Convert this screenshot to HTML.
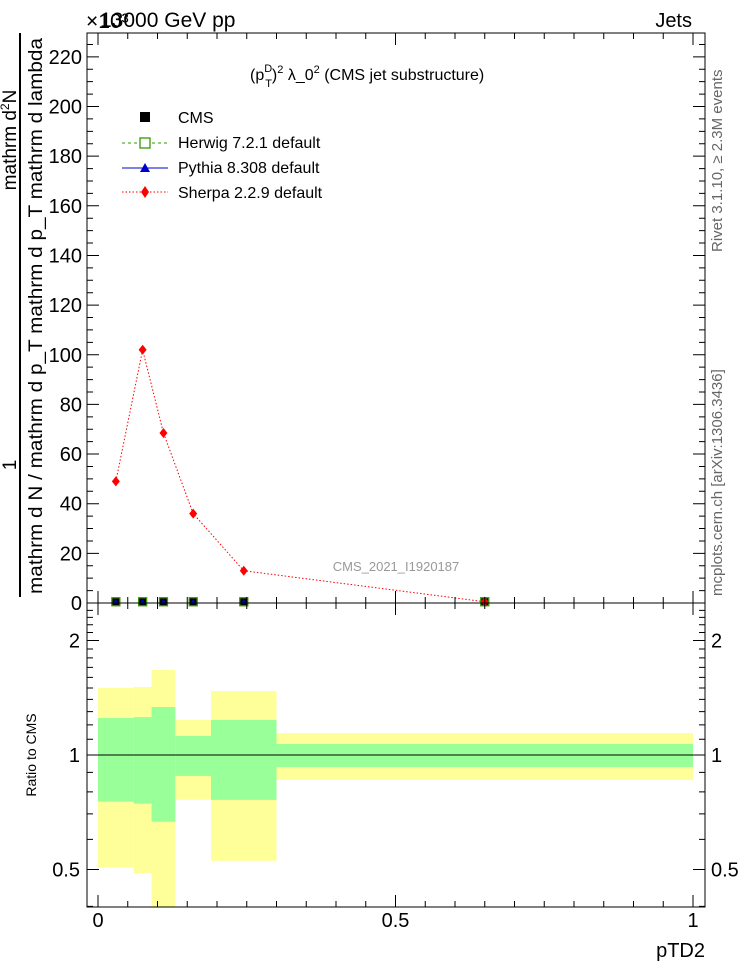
<!DOCTYPE html>
<html><head><meta charset="utf-8"><style>
body{margin:0;background:#fff}
svg{display:block;font-family:"Liberation Sans",sans-serif}
</style></head><body>
<svg id="c" width="746" height="972" viewBox="0 0 746 972" xmlns="http://www.w3.org/2000/svg">
<rect width="746" height="972" fill="#fff"/>
<g id="bands"></g>
<g id="marks"></g>
<g id="axes"></g>
<text x="86" y="28" font-size="21">×10³</text>
<text x="100" y="27" font-size="21">13000 GeV pp</text>
<text x="692" y="27" font-size="20" text-anchor="end">Jets</text>
<text x="250" y="80" font-size="16">(p<tspan font-size="11" dy="-8">D</tspan><tspan font-size="11" dx="-7" dy="15">T</tspan><tspan dy="-7">)</tspan><tspan font-size="11" dy="-7">2</tspan><tspan dy="7"> λ_0</tspan><tspan font-size="11" dy="-7">2</tspan><tspan dy="7"> (CMS jet substructure)</tspan></text>
<text x="396" y="571" font-size="13" fill="#999" text-anchor="middle">CMS_2021_I1920187</text>
<g>
<rect x="140" y="112" width="10" height="10" fill="#000"/>
<text x="178" y="123" font-size="16">CMS</text>
<line x1="122" y1="143" x2="168" y2="143" stroke="#339900" stroke-dasharray="3,3"/>
<rect x="140" y="138" width="10" height="10" fill="#fff" stroke="#339900" stroke-width="1.3"/>
<text x="178" y="148" font-size="16">Herwig 7.2.1 default</text>
<line x1="122" y1="168" x2="168" y2="168" stroke="#0000cc"/>
<path d="M140 172 L145 163 L150 172Z" fill="#0000cc"/>
<text x="178" y="173" font-size="16">Pythia 8.308 default</text>
<line x1="122" y1="192" x2="168" y2="192" stroke="#ff0000" stroke-dasharray="1.5,2"/>
<path d="M145 186 L149 192 L145 198 L141 192Z" fill="#ff0000"/>
<text x="178" y="198" font-size="16">Sherpa 2.2.9 default</text>
</g>
<g>
<line x1="20" y1="33" x2="20" y2="597" stroke="#000" stroke-width="2"/>
<text transform="translate(16,465) rotate(-90)" font-size="19" text-anchor="middle">1</text>
<text transform="translate(16,140) rotate(-90)" font-size="19" text-anchor="middle">mathrm d<tspan font-size="12" dy="-7">2</tspan><tspan dy="7">N</tspan></text>
<text transform="translate(42,594) rotate(-90)" font-size="19" textLength="556" lengthAdjust="spacingAndGlyphs">mathrm d N / mathrm d p_T mathrm d p_T mathrm d lambda</text>
</g>
<text transform="translate(36,755) rotate(-90)" font-size="14" text-anchor="middle">Ratio to CMS</text>
<text x="705" y="957" font-size="20" text-anchor="end">pTD2</text>
<text transform="translate(722,252) rotate(-90)" font-size="15" fill="#666">Rivet 3.1.10, ≥ 2.3M events</text>
<text transform="translate(722,596) rotate(-90)" font-size="15" fill="#666">mcplots.cern.ch [arXiv:1306.3436]</text>
</svg>
<script>
const binEdges=[0,0.06,0.09,0.13,0.19,0.30,1.0];
const pointX=[0.03,0.075,0.11,0.16,0.245,0.65];
const cmsVals=[0.5,0.5,0.5,0.5,0.5,0.5];
const sherpaVals=[49,102,68.5,36,13,0.5];
const greenUp=[1.251,1.258,1.337,1.122,1.236,1.069];
const greenDn=[0.754,0.745,0.668,0.881,0.762,0.930];
const yellowUp=[1.50,1.51,1.673,1.236,1.473,1.142];
const yellowDn=[0.506,0.489,0.30,0.762,0.527,0.860];
const yTicks=[0,20,40,60,80,100,120,140,160,180,200,220];
const xTicks=[0,0.5,1];
const rTicks=[0.5,1,2];

const NS="http://www.w3.org/2000/svg";
const L=87,R=705,T=33,MID=603,B=907;
const xs=v=>98+595*v;
const ys=v=>603-2.4825*v;
const rs=v=>755-114.5*Math.log2(v);
function mk(p,tag,a){const e=document.createElementNS(NS,tag);for(const k in a)e.setAttribute(k,a[k]);p.appendChild(e);return e;}
const bands=document.getElementById('bands'),marks=document.getElementById('marks'),axes=document.getElementById('axes');
const clipY=v=>Math.min(B,Math.max(MID,v));
for(let i=0;i<binEdges.length-1;i++){
  const x0=xs(binEdges[i]),x1=xs(binEdges[i+1]);
  let y0=clipY(rs(yellowUp[i])),y1=clipY(rs(yellowDn[i]));
  const yb=mk(bands,'rect',{x:x0,y:y0,width:x1-x0,height:y1-y0,fill:'#ffff99'});
  
  
  y0=clipY(rs(greenUp[i]));y1=clipY(rs(greenDn[i]));
  const gb=mk(bands,'rect',{x:x0,y:y0,width:x1-x0,height:y1-y0,fill:'#99ff99'});
  
  
}
const one=mk(marks,'line',{x1:L,x2:R,y1:rs(1),y2:rs(1),stroke:'#000'});


const pts=pointX.map((x,i)=>xs(x)+','+ys(sherpaVals[i])).join(' ');
const sl=mk(marks,'polyline',{points:pts,fill:'none',stroke:'#ff0000','stroke-dasharray':'1.5,2'});


pointX.forEach((x,i)=>{
  const cx=xs(x),cy=ys(cmsVals[i]);
  const c=mk(marks,'rect',{x:cx-4,y:cy-4,width:8,height:8,fill:'#000',stroke:'#339900','stroke-width':1.3});
  
  
  const p=mk(marks,'path',{d:`M${cx-3} ${cy+2} L${cx} ${cy-3} L${cx+3} ${cy+2}Z`,fill:'#0000cc'});
  
  
  const sy=ys(sherpaVals[i]);
  const s=mk(marks,'path',{d:`M${cx} ${sy-5} L${cx+4} ${sy} L${cx} ${sy+5} L${cx-4} ${sy}Z`,fill:'#ff0000'});
  
  
});
const f1=mk(axes,'rect',{x:L,y:T,width:R-L,height:MID-T,fill:'none',stroke:'#000'});


const f2=mk(axes,'rect',{x:L,y:MID,width:R-L,height:B-MID,fill:'none',stroke:'#000'});


let d='';
for(let v=0;v<=1.0001;v+=0.05){const x=xs(v);const maj=Math.abs(v*2-Math.round(v*2))<1e-6;const len=maj?12:6;
  d+=`M${x} ${T}v${len}M${x} ${MID}v${-len}M${x} ${MID}v${len}M${x} ${B}v${-len}`;}
for(let v=0;v<=225;v+=5){const y=ys(v);const len=v%20==0?12:6;d+=`M${L} ${y}h${len}M${R} ${y}h${-len}`;}
[0.4,0.5,0.6,0.7,0.8,0.9,1,1.1,1.2,1.3,1.4,1.5,1.6,1.7,1.8,1.9,2,2.1,2.2,2.3,2.4].forEach(v=>{const y=rs(v);if(y<MID||y>B)return;const len=(v==0.5||v==1||v==2)?12:6;d+=`M${L} ${y}h${len}M${R} ${y}h${-len}`;});
const tk=mk(axes,'path',{d:d,stroke:'#000',fill:'none'});


yTicks.forEach(v=>{const t=mk(axes,'text',{x:82,y:ys(v)+7,'font-size':20,'text-anchor':'end'});t.textContent=v;
  
  });
xTicks.forEach(v=>{const t=mk(axes,'text',{x:xs(v),y:927,'font-size':20,'text-anchor':'middle'});t.textContent=v;
  
  });
rTicks.forEach(v=>{[[80,'end'],[711,'start']].forEach(([x,a])=>{const t=mk(axes,'text',{x:x,y:rs(v)+7,'font-size':20,'text-anchor':a});t.textContent=v;
  
  });});
</script>
</body></html>
